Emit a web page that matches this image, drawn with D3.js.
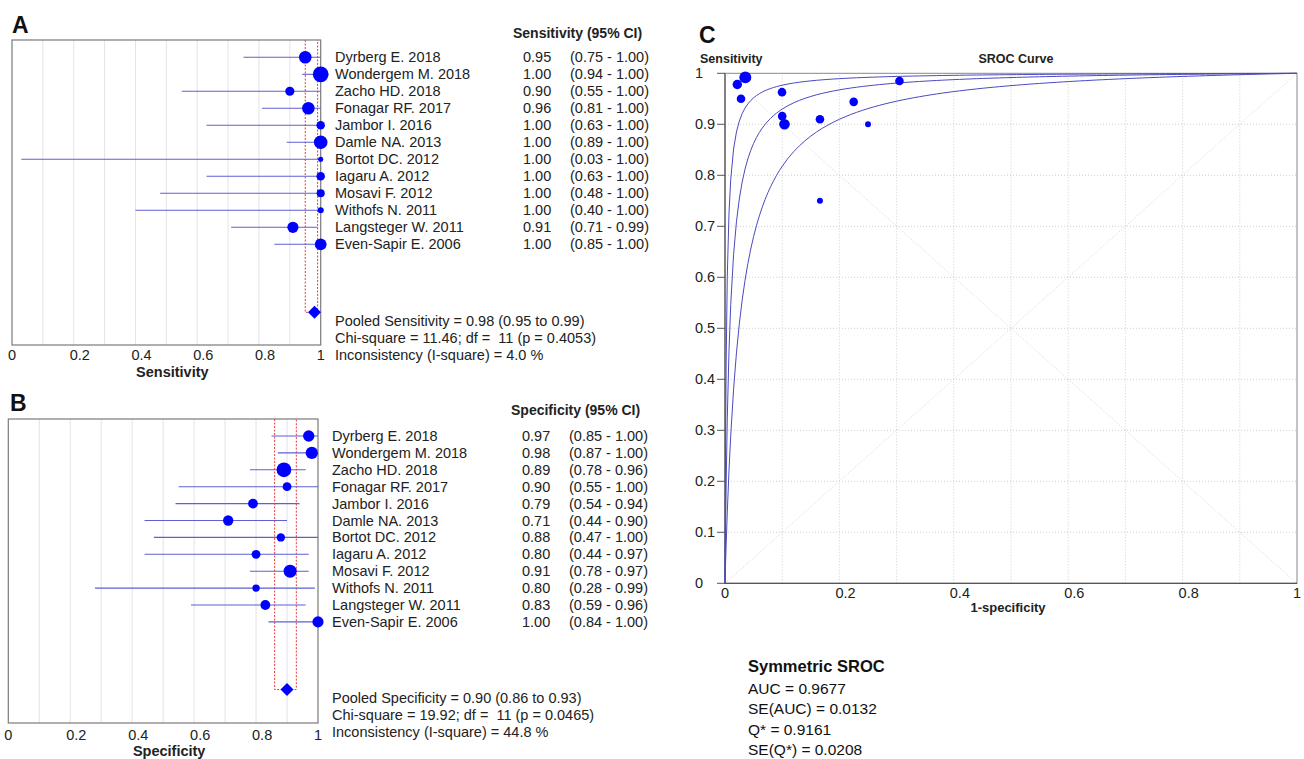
<!DOCTYPE html>
<html>
<head>
<meta charset="utf-8">
<script src="https://cdn.jsdelivr.net/npm/d3@7"></script>
<style>
  html, body { margin: 0; padding: 0; background: #fff; }
  svg { display: block; font-family: "Liberation Sans", Arial, sans-serif; }
</style>
</head>
<body>
<script>
// ---------------- DATA ----------------
const studies = ["Dyrberg E. 2018", "Wondergem M. 2018", "Zacho HD. 2018", "Fonagar RF. 2017",
  "Jambor I. 2016", "Damle NA. 2013", "Bortot DC. 2012", "Iagaru A. 2012", "Mosavi F. 2012",
  "Withofs N. 2011", "Langsteger W. 2011", "Even-Sapir E. 2006"];

const sensEst = [0.95, 1.00, 0.90, 0.96, 1.00, 1.00, 1.00, 1.00, 1.00, 1.00, 0.91, 1.00];
const sensLo  = [0.75, 0.94, 0.55, 0.81, 0.63, 0.89, 0.03, 0.63, 0.48, 0.40, 0.71, 0.85];
const sensHi  = [1.00, 1.00, 1.00, 1.00, 1.00, 1.00, 1.00, 1.00, 1.00, 1.00, 0.99, 1.00];
const sensWeight = [11.5, 18.2, 6.1, 11.5, 5.3, 13.5, 1.9, 5.3, 4.8, 2.7, 9.1, 10.1];
const sensPooled = [0.98, 0.95, 0.99];
const sensStats = ["Pooled Sensitivity = 0.98 (0.95 to 0.99)",
  "Chi-square = 11.46; df =  11 (p = 0.4053)",
  "Inconsistency (I-square) = 4.0 %"];

const specEst = [0.97, 0.98, 0.89, 0.90, 0.79, 0.71, 0.88, 0.80, 0.91, 0.80, 0.83, 1.00];
const specLo  = [0.85, 0.87, 0.78, 0.55, 0.54, 0.44, 0.47, 0.44, 0.78, 0.28, 0.59, 0.84];
const specHi  = [1.00, 1.00, 0.96, 1.00, 0.94, 0.90, 1.00, 0.97, 0.97, 0.99, 0.96, 1.00];
const specWeight = [9.4, 11.1, 15.7, 5.7, 7.0, 7.8, 5.2, 5.7, 12.5, 4.0, 7.0, 9.1];
const specPooled = [0.90, 0.86, 0.93];
const specStats = ["Pooled Specificity = 0.90 (0.86 to 0.93)",
  "Chi-square = 19.92; df =  11 (p = 0.0465)",
  "Inconsistency (I-square) = 44.8 %"];

const forestTicks = [0, 0.2, 0.4, 0.6, 0.8, 1];
const forestGrid = [0.1, 0.2, 0.3, 0.4, 0.5, 0.6, 0.7, 0.8, 0.9];

// SROC panel
const srocFpr  = [0.0215, 0.0355, 0.028, 0.0997, 0.100, 0.104, 0.166, 0.225, 0.250, 0.166, 0.305];
const srocSens = [0.978, 0.992, 0.950, 0.963, 0.916, 0.900, 0.910, 0.944, 0.900, 0.750, 0.985];
const srocWeight = [6.5, 10.5, 5.4, 5.4, 5.4, 8.2, 5.4, 5.4, 2.6, 2.6, 5.4];
const srocQ = [0.864, 0.9161, 0.951];   // Q* of lower bound, curve, upper bound
const srocXTicks = [0, 0.2, 0.4, 0.6, 0.8, 1];
const srocYTicks = [0, 0.1, 0.2, 0.3, 0.4, 0.5, 0.6, 0.7, 0.8, 0.9, 1];
const srocGrid = [0.1, 0.2, 0.3, 0.4, 0.5, 0.6, 0.7, 0.8, 0.9];
const srocSummaryTitle = "Symmetric SROC";
const srocSummary = ["AUC = 0.9677", "SE(AUC) = 0.0132", "Q* = 0.9161", "SE(Q*) = 0.0208"];

// ---------------- DRAW ----------------
const W = 1304, H = 759;
const svg = d3.select("body").append("svg").attr("width", W).attr("height", H);
const FONT = 14.5;
const blue = "#0000ff";
const ciColor = "#5f5fd3";
const frameColor = "#7a7a7a";

const rScale = d3.scaleSqrt().domain([0, 20]).range([0, 1.85 * Math.sqrt(20)]);

function forest(o) {
  const g = svg.append("g");
  const x = d3.scaleLinear().domain([0, 1]).range([o.x0, o.x1]);
  const y = d3.scaleLinear().domain([0, 1]).range([o.row0, o.row0 + o.step]);

  const clipId = "clip" + o.id;
  svg.append("clipPath").attr("id", clipId).append("rect")
    .attr("x", 0).attr("y", o.yTop - 40).attr("width", 649).attr("height", o.yBot - o.yTop + 60);

  // grid
  g.selectAll("line.grid").data(forestGrid).join("line")
    .attr("x1", d => x(d)).attr("x2", d => x(d))
    .attr("y1", o.yTop).attr("y2", o.yBot)
    .attr("stroke", "#e2e2ea").attr("stroke-width", 1);

  // pooled CI dashed box
  const [pe, pl, ph] = o.pooled;
  const py = y(15);
  g.append("path")
    .attr("d", `M${x(pl)},${o.yTop}V${py}H${x(ph)}V${o.yTop}`)
    .attr("fill", "none").attr("stroke", "#e23b3b").attr("stroke-width", 1)
    .attr("stroke-dasharray", "2,1.5");

  // frame
  g.append("rect").attr("x", o.x0).attr("y", o.yTop)
    .attr("width", o.x1 - o.x0).attr("height", o.yBot - o.yTop)
    .attr("fill", "none").attr("stroke", frameColor).attr("stroke-width", 1.2);

  // CI lines
  g.selectAll("line.ci").data(studies).join("line")
    .attr("x1", (d, i) => x(o.lo[i])).attr("x2", (d, i) => x(o.hi[i]))
    .attr("y1", (d, i) => y(i)).attr("y2", (d, i) => y(i))
    .attr("stroke", ciColor).attr("stroke-width", 1.1);

  // points
  g.selectAll("circle.pt").data(studies).join("circle")
    .attr("cx", (d, i) => x(o.est[i])).attr("cy", (d, i) => y(i))
    .attr("r", (d, i) => rScale(o.w[i])).attr("fill", blue);

  // pooled diamond
  const dh = 6.5;
  g.append("path")
    .attr("d", `M${x(pe) - dh},${py}L${x(pe)},${py - dh}L${x(pe) + dh},${py}L${x(pe)},${py + dh}Z`)
    .attr("fill", blue);

  // tick labels
  g.selectAll("text.tick").data(forestTicks).join("text")
    .attr("x", d => x(d) - 4).attr("y", o.tickY)
    .attr("font-size", FONT).attr("fill", "#222").text(d => d3.format("")(d));

  // axis title
  g.append("text").attr("x", x(0.5) + 6).attr("y", o.titleY)
    .attr("text-anchor", "middle").attr("font-size", FONT).attr("font-weight", "bold")
    .attr("fill", "#222").text(o.axisTitle);

  // header
  g.append("text").attr("x", o.hdrX).attr("y", o.hdrY)
    .attr("font-size", 14).attr("font-weight", "bold").attr("fill", "#222").text(o.header);

  // study names and values
  g.selectAll("text.name").data(studies).join("text")
    .attr("x", o.nameX).attr("y", (d, i) => y(i) + 5)
    .attr("font-size", FONT).attr("fill", "#222").text(d => d);
  g.selectAll("text.val").data(studies).join("text")
    .attr("x", o.valX).attr("y", (d, i) => y(i) + 5)
    .attr("font-size", FONT).attr("fill", "#222").text((d, i) => o.est[i].toFixed(2));
  g.append("g").attr("clip-path", `url(#${clipId})`)
    .selectAll("text.ci").data(studies).join("text")
    .attr("x", o.ciX).attr("y", (d, i) => y(i) + 5)
    .attr("font-size", FONT).attr("fill", "#222")
    .text((d, i) => `(${o.lo[i].toFixed(2)} - ${o.hi[i].toFixed(2)})`);

  // pooled stats
  g.selectAll("text.stat").data(o.stats).join("text")
    .attr("x", o.nameX).attr("y", (d, i) => y(15.5 + i) + 5)
    .attr("font-size", FONT).attr("fill", "#222").style("white-space", "pre").text(d => d);

  // panel letter
  g.append("text").attr("x", o.letterX).attr("y", o.letterY)
    .attr("font-size", 23).attr("font-weight", "bold").attr("fill", "#111").text(o.letter);
}

forest({ id: "A", letter: "A", letterX: 12, letterY: 33,
  x0: 12, x1: 320.7, yTop: 40, yBot: 345, row0: 57.3, step: 17,
  est: sensEst, lo: sensLo, hi: sensHi, w: sensWeight, pooled: sensPooled, stats: sensStats,
  tickY: 360, titleY: 377, axisTitle: "Sensitivity",
  header: "Sensitivity (95% CI)", hdrX: 513, hdrY: 38,
  nameX: 335, valX: 523, ciX: 570 });

forest({ id: "B", letter: "B", letterX: 10, letterY: 411,
  x0: 8.3, x1: 318, yTop: 419, yBot: 723, row0: 436, step: 16.9,
  est: specEst, lo: specLo, hi: specHi, w: specWeight, pooled: specPooled, stats: specStats,
  tickY: 740, titleY: 756, axisTitle: "Specificity",
  header: "Specificity (95% CI)", hdrX: 511, hdrY: 415,
  nameX: 332, valX: 522, ciX: 569 });

// ---------------- SROC ----------------
(function () {
  const g = svg.append("g");
  const x = d3.scaleLinear().domain([0, 1]).range([725, 1297]);
  const y = d3.scaleLinear().domain([0, 1]).range([583.3, 73.3]);

  // grid (dotted)
  g.selectAll("line.gx").data(srocGrid).join("line")
    .attr("x1", d => x(d)).attr("x2", d => x(d)).attr("y1", y(0)).attr("y2", y(1))
    .attr("stroke", "#cfcfcf").attr("stroke-dasharray", "1,2");
  g.selectAll("line.gy").data(srocGrid).join("line")
    .attr("y1", d => y(d)).attr("y2", d => y(d)).attr("x1", x(0)).attr("x2", x(1))
    .attr("stroke", "#cfcfcf").attr("stroke-dasharray", "1,2");
  // diagonals
  g.append("line").attr("x1", x(0)).attr("y1", y(0)).attr("x2", x(1)).attr("y2", y(1))
    .attr("stroke", "#d4d4d4").attr("stroke-dasharray", "1,2");
  g.append("line").attr("x1", x(0)).attr("y1", y(1)).attr("x2", x(1)).attr("y2", y(0))
    .attr("stroke", "#d4d4d4").attr("stroke-dasharray", "1,2");

  // frame
  g.append("rect").attr("x", x(0)).attr("y", y(1)).attr("width", x(1) - x(0)).attr("height", y(0) - y(1))
    .attr("fill", "none").attr("stroke", "#888").attr("stroke-width", 1);
  g.append("line").attr("x1", x(0)).attr("x2", x(0)).attr("y1", y(0)).attr("y2", y(1))
    .attr("stroke", "#555").attr("stroke-width", 1.2);
  g.append("line").attr("x1", x(0)).attr("x2", x(1)).attr("y1", y(0)).attr("y2", y(0))
    .attr("stroke", "#555").attr("stroke-width", 1.2);

  // y axis ticks + labels
  g.selectAll("line.yt").data(srocYTicks).join("line")
    .attr("x1", x(0) - 8).attr("x2", x(0)).attr("y1", d => y(d)).attr("y2", d => y(d))
    .attr("stroke", "#555");
  g.selectAll("text.yl").data(srocYTicks).join("text")
    .attr("x", x(0) - 30).attr("y", d => y(d) + 5)
    .attr("font-size", FONT).attr("fill", "#222").text(d => d3.format("")(d));

  // x labels
  g.selectAll("text.xl").data(srocXTicks).join("text")
    .attr("x", d => x(d) - 4).attr("y", y(0) + 15)
    .attr("font-size", FONT).attr("fill", "#222").text(d => d3.format("")(d));

  // SROC curves
  const logit = p => Math.log(p / (1 - p));
  const fprs = [1e-7, 1e-6, 1e-5, 3e-5, 1e-4, 3e-4, 1e-3, 2e-3, 4e-3, 7e-3]
    .concat(d3.range(0.01, 0.1, 0.005)).concat(d3.range(0.1, 0.9999, 0.01)).concat([0.999, 0.99999]);
  const line = d3.line().x(d => x(d[0])).y(d => y(d[1]));
  srocQ.forEach(q => {
    const a = 2 * logit(q);
    const pts = fprs.map(f => [f, 1 / (1 + Math.exp(-(a + logit(f))))]);
    pts.unshift([0, 0]); pts.push([1, 1]);
    g.append("path").attr("d", line(pts)).attr("fill", "none")
      .attr("stroke", "#4a4ac0").attr("stroke-width", 1);
  });

  // points
  g.selectAll("circle.sp").data(srocFpr).join("circle")
    .attr("cx", (d, i) => x(srocFpr[i])).attr("cy", (d, i) => y(srocSens[i]))
    .attr("r", (d, i) => rScale(srocWeight[i])).attr("fill", blue);

  // labels
  g.append("text").attr("x", 699).attr("y", 42.7).attr("font-size", 23)
    .attr("font-weight", "bold").attr("fill", "#111").text("C");
  g.append("text").attr("x", 700).attr("y", 63).attr("font-size", 12.5)
    .attr("font-weight", "bold").attr("fill", "#222").text("Sensitivity");
  g.append("text").attr("x", 1016).attr("y", 63).attr("text-anchor", "middle").attr("font-size", 12.5)
    .attr("font-weight", "bold").attr("fill", "#222").text("SROC Curve");
  g.append("text").attr("x", 1008).attr("y", 612).attr("text-anchor", "middle").attr("font-size", 13)
    .attr("font-weight", "bold").attr("fill", "#222").text("1-specificity");

  g.append("text").attr("x", 748).attr("y", 672).attr("font-size", 16.5)
    .attr("font-weight", "bold").attr("fill", "#111").text(srocSummaryTitle);
  g.selectAll("text.sum").data(srocSummary).join("text")
    .attr("x", 748).attr("y", (d, i) => 693.5 + i * 20.6)
    .attr("font-size", 15.5).attr("fill", "#111").text(d => d);
})();
</script>
</body>
</html>
